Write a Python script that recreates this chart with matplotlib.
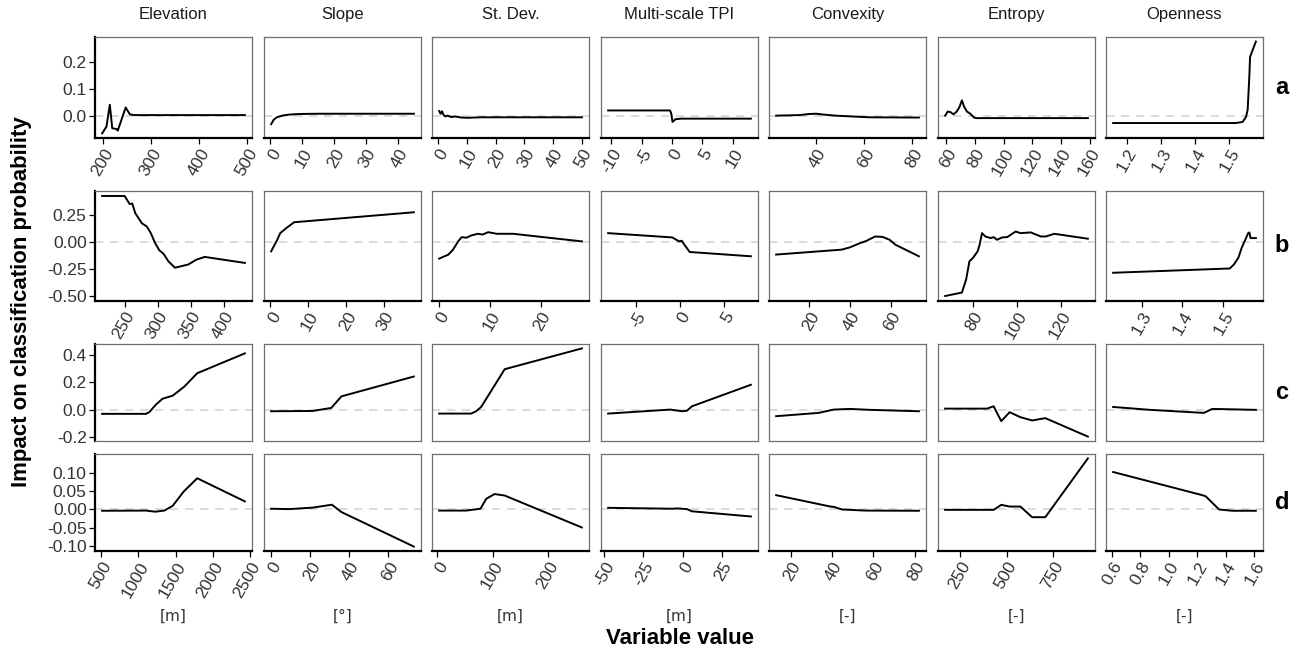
import matplotlib
matplotlib.use("Agg")
import matplotlib.pyplot as plt

plt.rcParams['font.family'] = ['Liberation Sans', 'DejaVu Sans']
plt.rcParams['axes.unicode_minus'] = False

variables = ['Elevation', 'Slope', 'St. Dev.', 'Multi-scale TPI', 'Convexity', 'Entropy', 'Openness']
units = ['[m]', '[°]', '[m]', '[m]', '[-]', '[-]', '[-]']
row_labels = ['a', 'b', 'c', 'd']

# ---- row a ----
elev_a_x = [198, 207, 214, 219, 228, 230.5, 247, 255.5, 264, 350, 495]
elev_a_y = [-0.062, -0.037, 0.043, -0.043, -0.046, -0.052, 0.033, 0.008, 0.005, 0.005, 0.005]
slope_a_x = [0.2, 1, 2, 4, 6, 9, 15, 45]
slope_a_y = [-0.028, -0.012, -0.003, 0.004, 0.007, 0.009, 0.010, 0.010]
stdev_a_x = [0.3, 0.8, 1.3, 1.8, 2.5, 3.2, 4.5, 6, 8, 10, 15, 50]
stdev_a_y = [0.020, 0.010, 0.019, 0.006, 0.0, 0.003, -0.002, 0.0, -0.004, -0.005, -0.003, -0.003]
tpi_a_x = [-10.5, -0.3, -0.1, 0.1, 0.6, 1.5, 13]
tpi_a_y = [0.022, 0.022, 0.010, -0.020, -0.010, -0.008, -0.008]
conv_a_x = [23.4, 33, 37, 40, 43, 48, 55, 62, 82.7]
conv_a_y = [0.003, 0.005, 0.009, 0.010, 0.007, 0.003, 0.0, -0.003, -0.004]
ent_a_x = [59.3, 61.1, 63, 65.1, 67.4, 69.3, 71, 72.4, 74.5, 76.8, 79.4, 81, 158.7]
ent_a_y = [0.003, 0.018, 0.016, 0.008, 0.018, 0.035, 0.059, 0.037, 0.018, 0.010, -0.004, -0.006, -0.006]
open_a_x = [1.16, 1.52, 1.539, 1.549, 1.554, 1.559, 1.561, 1.578]
open_a_y = [-0.024, -0.024, -0.020, -0.002, 0.025, 0.150, 0.218, 0.274]

# ---- row b ----
elev_b_x = [216, 250, 257.5, 261.5, 266, 276, 283.5, 289.5, 296, 302.5, 308.5, 316, 326, 346, 358.5, 371, 431.5]
elev_b_y = [0.43, 0.43, 0.355, 0.36, 0.27, 0.175, 0.145, 0.083, -0.01, -0.078, -0.108, -0.18, -0.24, -0.21, -0.164, -0.139, -0.195]
slope_b_x = [0.2, 1.8, 2.6, 4.2, 6.3, 38]
slope_b_y = [-0.087, 0.02, 0.083, 0.13, 0.185, 0.278]
stdev_b_x = [0.07, 1.9, 2.8, 3.8, 4.5, 5.4, 6.4, 7.7, 8.6, 9.7, 11.4, 14.6, 28.1]
stdev_b_y = [-0.155, -0.117, -0.071, 0.006, 0.046, 0.04, 0.062, 0.077, 0.07, 0.092, 0.077, 0.077, 0.006]
tpi_b_x = [-8.1, -0.86, -0.1, 0.2, 0.45, 1.1, 8.0]
tpi_b_y = [0.083, 0.043, 0.006, 0.012, -0.019, -0.093, -0.133]
conv_b_x = [3.9, 36, 40, 45, 48, 52.4, 56, 59.5, 62.3, 73.8]
conv_b_y = [-0.117, -0.071, -0.05, -0.01, 0.01, 0.052, 0.048, 0.021, -0.025, -0.133]
ent_b_x = [67.6, 75.2, 77.1, 78.6, 80.2, 82.3, 83.2, 84.3, 85.8, 88.1, 89.6, 91.1, 93.4, 95.7, 99.5, 101.8, 106.3, 110.9, 113.2, 117, 132.2]
ent_b_y = [-0.504, -0.472, -0.35, -0.18, -0.148, -0.087, -0.025, 0.083, 0.052, 0.037, 0.046, 0.021, 0.043, 0.046, 0.098, 0.083, 0.09, 0.052, 0.052, 0.077, 0.031]
open_b_x = [1.23, 1.516, 1.526, 1.537, 1.545, 1.554, 1.561, 1.564, 1.567, 1.58]
open_b_y = [-0.287, -0.247, -0.21, -0.148, -0.056, 0.021, 0.083, 0.09, 0.037, 0.037]

# ---- row c ----
elev_c_x = [513, 1100, 1145, 1235, 1324, 1460, 1618, 1789, 2428]
elev_c_y = [-0.029, -0.029, -0.017, 0.038, 0.081, 0.103, 0.17, 0.266, 0.41]
slope_c_x = [0, 21.3, 30.9, 36.1, 73.3]
slope_c_y = [-0.01, -0.008, 0.014, 0.098, 0.242]
stdev_c_x = [3, 60.7, 69.8, 78.9, 121.3, 260.7]
stdev_c_y = [-0.027, -0.027, -0.01, 0.021, 0.295, 0.446]
tpi_c_x = [-47.4, -7.9, -0.4, 2.8, 6.0, 43.5]
tpi_c_y = [-0.027, 0.002, -0.01, -0.006, 0.026, 0.182]
conv_c_x = [13, 33.5, 40.8, 48.9, 51.3, 58.6, 82]
conv_c_y = [-0.046, -0.022, 0.002, 0.007, 0.005, 0.0, -0.01]
ent_c_x = [169, 394, 430, 471, 516, 574, 637, 708, 937]
ent_c_y = [0.009, 0.009, 0.026, -0.082, -0.017, -0.053, -0.077, -0.06, -0.194]
open_c_x = [0.611, 0.871, 1.247, 1.306, 1.612]
open_c_y = [0.021, 0.0, -0.022, 0.007, 0.0]

# ---- row d ----
elev_d_x = [513, 1100, 1225, 1347, 1460, 1608, 1789, 2428]
elev_d_y = [-0.0035, -0.003, -0.006, -0.003, 0.01, 0.049, 0.085, 0.022]
slope_d_x = [0, 9.2, 21.3, 31.2, 36.1, 73.3]
slope_d_y = [0.002, 0.001, 0.005, 0.013, -0.007, -0.101]
stdev_d_x = [3, 51.6, 77.6, 88, 103, 121.3, 260.7]
stdev_d_y = [-0.003, -0.003, 0.002, 0.029, 0.042, 0.038, -0.049]
tpi_d_x = [-47.4, -5.8, -3.6, 2.8, 6, 43.5]
tpi_d_y = [0.0045, 0.002, 0.003, 0.001, -0.005, -0.019]
conv_d_x = [13, 39.2, 41, 44.8, 56.2, 82]
conv_d_y = [0.039, 0.008, 0.007, 0.0, -0.003, -0.0035]
ent_d_x = [169, 430, 471, 516, 574, 637, 708, 937]
ent_d_y = [-0.001, -0.001, 0.0126, 0.008, 0.008, -0.021, -0.021, 0.139]
open_d_x = [0.611, 1.236, 1.26, 1.354, 1.447, 1.612]
open_d_y = [0.102, 0.039, 0.036, 0.0, -0.0035, -0.0035]

# x tick positions per row and variable
xticks_a = [[200, 300, 400, 500], [0, 10, 20, 30, 40], [0, 10, 20, 30, 40, 50], [-10, -5, 0, 5, 10],
            [40, 60, 80], [60, 80, 100, 120, 140, 160], [1.2, 1.3, 1.4, 1.5]]
xticks_b = [[250, 300, 350, 400], [0, 10, 20, 30], [0, 10, 20], [-5, 0, 5],
            [20, 40, 60], [80, 100, 120], [1.3, 1.4, 1.5]]
xticks_d = [[500, 1000, 1500, 2000, 2500], [0, 20, 40, 60], [0, 100, 200], [-50, -25, 0, 25],
            [20, 40, 60, 80], [250, 500, 750], [0.6, 0.8, 1.0, 1.2, 1.4, 1.6]]
yticks = [[0.0, 0.1, 0.2], [-0.50, -0.25, 0.00, 0.25], [-0.2, 0.0, 0.2, 0.4], [-0.10, -0.05, 0.00, 0.05, 0.10]]
ytick_fmt = ['{:.1f}', '{:.2f}', '{:.1f}', '{:.2f}']

rows = [
    [(elev_a_x, elev_a_y), (slope_a_x, slope_a_y), (stdev_a_x, stdev_a_y), (tpi_a_x, tpi_a_y),
     (conv_a_x, conv_a_y), (ent_a_x, ent_a_y), (open_a_x, open_a_y)],
    [(elev_b_x, elev_b_y), (slope_b_x, slope_b_y), (stdev_b_x, stdev_b_y), (tpi_b_x, tpi_b_y),
     (conv_b_x, conv_b_y), (ent_b_x, ent_b_y), (open_b_x, open_b_y)],
    [(elev_c_x, elev_c_y), (slope_c_x, slope_c_y), (stdev_c_x, stdev_c_y), (tpi_c_x, tpi_c_y),
     (conv_c_x, conv_c_y), (ent_c_x, ent_c_y), (open_c_x, open_c_y)],
    [(elev_d_x, elev_d_y), (slope_d_x, slope_d_y), (stdev_d_x, stdev_d_y), (tpi_d_x, tpi_d_y),
     (conv_d_x, conv_d_y), (ent_d_x, ent_d_y), (open_d_x, open_d_y)],
]
row_xticks = [xticks_a, xticks_b, None, xticks_d]

W, H = 1303, 654
col_left = [95, 264, 432, 601, 769, 938, 1106]
col_w = 157
row_tb = [(37, 138), (191, 301), (344, 441), (454, 551)]


def box(l, t, r, b):
    return [l / W, 1 - b / H, (r - l) / W, (b - t) / H]


def expand(vals, f=0.05):
    lo, hi = min(vals), max(vals)
    d = (hi - lo) * f
    return lo - d, hi + d


def fmt(v):
    return '%g' % round(v, 6)


fig = plt.figure(figsize=(W / 100, H / 100), dpi=100)
txt_col = '#333333'
frame_col = '#6e6e6e'

for r, row in enumerate(rows):
    ylo, yhi = expand([v for _, ys in row for v in ys])
    top, bot = row_tb[r]
    for c, (xs, ys) in enumerate(row):
        ax = fig.add_axes(box(col_left[c], top, col_left[c] + col_w, bot))
        ax.axhline(0, color='#d4d4d4', lw=1.2, ls=(0, (5, 4)), zorder=1)
        ax.plot(xs, ys, color='black', lw=1.4, zorder=2)
        if r >= 2:
            # rows c and d share the x scale of each column
            other = rows[5 - r][c][0]
            ax.set_xlim(*expand(list(xs) + list(other)))
        else:
            ax.set_xlim(*expand(xs))
        ax.set_ylim(ylo, yhi)
        for s in ax.spines.values():
            s.set_color(frame_col)
            s.set_linewidth(0.9)
        ax.tick_params(length=4, width=0.9, color='black', labelsize=12.5, labelcolor=txt_col, pad=2)
        if c == 0:
            ax.spines['left'].set_color('black')
            ax.spines['left'].set_linewidth(1.6)
            ax.set_yticks(yticks[r])
            ax.set_yticklabels([ytick_fmt[r].format(v) for v in yticks[r]])
        else:
            ax.set_yticks([])
        if row_xticks[r] is not None:
            ax.spines['bottom'].set_color('black')
            ax.spines['bottom'].set_linewidth(1.6)
            ticks = row_xticks[r][c]
            ax.set_xticks(ticks)
            labs = ['%.1f' % t for t in ticks] if r == 3 and c == 6 else [fmt(t) for t in ticks]
            ax.set_xticklabels(labs, rotation=60, ha='right', va='top', rotation_mode='anchor')
        else:
            ax.set_xticks([])
        if r == 0:
            ax.set_title(variables[c], fontsize=12, color='#1a1a1a', pad=13)
        if r == 3:
            fig.text((col_left[c] + col_w / 2) / W, 1 - 616 / H, units[c], ha='center', va='center',
                     fontsize=11, color=txt_col, family='DejaVu Sans')
    fig.text(1282 / W, 1 - (top + bot) / 2 / H, row_labels[r], ha='center', va='center',
             fontsize=17, fontweight='bold')

fig.text(22 / W, 1 - 302 / H, 'Impact on classification probability', rotation=90,
         ha='center', va='center', fontsize=16, fontweight='bold')
fig.text(680 / W, 1 - 638 / H, 'Variable value', ha='center', va='center', fontsize=16, fontweight='bold')

fig.savefig('out.png', dpi=100)
